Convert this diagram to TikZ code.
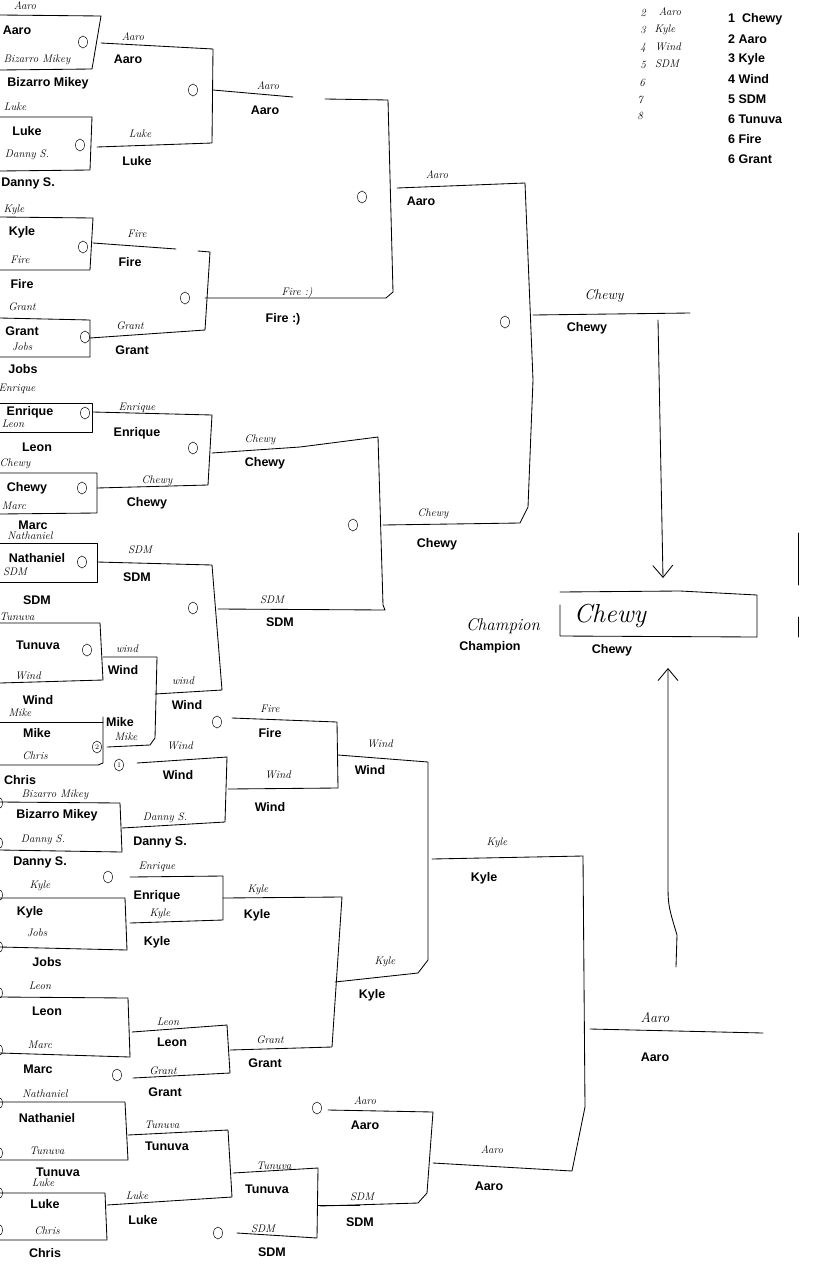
\documentclass[tikz,border=0pt]{standalone}
\usepackage{fontspec}
\newfontfamily\pfont{Liberation Sans}
\usetikzlibrary{arrows.meta,shapes.geometric}
\begin{document}
\begin{tikzpicture}[x=1pt,y=-1pt,
 lbl/.style={font=\pfont\bfseries\fontsize{12.5}{13}\selectfont, inner sep=0pt},
 hw/.style={font=\itshape\fontsize{11}{11}\selectfont, inner sep=0pt},
 ln/.style={line width=0.85pt, line join=round, line cap=round},
 circ/.style={draw, ellipse, minimum width=9pt, minimum height=12pt, inner sep=0pt, line width=0.5pt, font=\fontsize{7}{7}\selectfont},
 arr/.style={ln, -{Straight Barb[length=12pt,width=20pt]}}]
\fill[white] (0,0) rectangle (812,1269);
\path[use as bounding box] (0,0) rectangle (812,1269);

% ---------------- winners bracket lines ----------------
\draw[ln] (0,15) -- (101,16) -- (92,69) -- (0,70);
\draw[ln] (101,43) -- (213,49) -- (212,143) -- (97,147);
\draw[ln] (0,117) -- (92,117) -- (90,170) -- (0,171);
\draw[ln] (213,90) -- (293,97);
\draw[ln] (325,99) -- (388,100) -- (393,292) -- (386,298) -- (205,298);
\draw[ln] (0,217) -- (93,218) -- (90,270) -- (0,270);
\draw[ln] (93,243) -- (176,249);
\draw[ln] (198,251) -- (210,252) -- (205,330) -- (90,338);
\draw[ln] (0,318) -- (90,320) -- (90,357) -- (0,357);
\draw[ln] (0,403) -- (92,403) -- (92,432) -- (0,432);
\draw[ln] (93,412) -- (212,415) -- (208,485) -- (97,488);
\draw[ln] (0,473) -- (97,473) -- (97,513) -- (0,514);
\draw[ln] (212,453) -- (300,447) -- (378,437) -- (383,605) -- (385,610) -- (218,609);
\draw[ln] (397,188) -- (525,183) -- (533,380) -- (528,507) -- (520,523) -- (383,525);
\draw[ln] (533,315) -- (690,313);
\draw[ln] (0,543) -- (97,543) -- (97,582) -- (0,582);
\draw[ln] (97,562) -- (212,565) -- (222,690) -- (155,694);
\draw[ln] (0,623) -- (100,623) -- (103,680) -- (0,683);
\draw[ln] (103,657) -- (157,657) -- (155,738) -- (150,745) -- (107,747);
\draw[ln] (0,722) -- (103,722);
\draw[ln] (103,717) -- (103,763) -- (98,765) -- (0,765);

% ---------------- champion ----------------
\draw[arr] (658,320) -- (663,578);
\draw[arr] (676,967) -- (677,935) .. controls (668,905) .. (668,880) -- (668,668);
\draw[ln] (560,592) -- (680,591) -- (757,595) -- (757,637) -- (560,636) -- (560,605);
\draw[ln] (798,533) -- (798,585);
\draw[ln] (798,617) -- (798,637);

% ---------------- losers bracket lines ----------------
\draw[ln] (232,718) -- (337,722) -- (338,788) -- (228,789);
\draw[ln] (137,763) -- (227,757) -- (225,822) -- (122,828);
\draw[ln] (0,802) -- (120,803) -- (122,852) -- (0,850);
\draw[ln] (338,755) -- (428,762) -- (428,960) -- (418,973) -- (335,982);
\draw[ln] (130,877) -- (223,876) -- (223,920) -- (130,923);
\draw[ln] (0,898) -- (125,898) -- (127,950) -- (0,947);
\draw[ln] (223,898) -- (342,897) -- (332,1047) -- (230,1050);
\draw[ln] (0,997) -- (128,998) -- (130,1057) -- (0,1053);
\draw[ln] (132,1032) -- (227,1025) -- (230,1073) -- (133,1078);
\draw[ln] (0,1102) -- (125,1102) -- (128,1160) -- (0,1160);
\draw[ln] (128,1135) -- (228,1130) -- (232,1197) -- (107,1205);
\draw[ln] (0,1193) -- (105,1193) -- (107,1240) -- (0,1240);
\draw[ln] (233,1173) -- (318,1168) -- (317,1238) -- (237,1233);
\draw[ln] (318,1205) -- (360,1205);
\draw[ln] (328,1110) -- (433,1112) -- (427,1193) -- (418,1203) -- (320,1206);
\draw[ln] (433,1163) -- (572,1171) -- (585,1107) -- (583,856) -- (432,859);
\draw[ln] (590,1029) -- (763,1033);

% ---------------- circled marks ----------------
\foreach \n/\x/\y in {c1/83/42, c2/80/145, c3/193/90, c4/83/247, c5/185/298, c6/362/197,
  c7/85/337, c8/85/413, c9/193/448, c10/82/488, c11/353/525, c12/505/322, c13/82/562,
  c14/193/608, c15/87/650, c16/217/722, c17/-2/803, c18/-2/843, c19/108/877, c20/-2/895,
  c21/-2/947, c22/-2/993, c23/-2/1050, c24/117/1075, c25/-2/1103, c26/-2/1153,
  c27/-2/1193, c28/-2/1230, c29/317/1108, c30/218/1233}
  \node[circ] (\n) at (\x,\y) {};
\node[circ] (c31) at (97,747) {2};
\node[circ] (c32) at (119,765) {1};

% ---------------- printed labels ----------------
\node[lbl] (pA1) at (17,30) {Aaro};
\node[lbl] (pA2) at (48,83) {Bizarro Mikey};
\node[lbl] (pA3) at (27,131) {Luke};
\node[lbl] (pA4) at (28,183) {Danny S.};
\node[lbl] (pA5) at (22,232) {Kyle};
\node[lbl] (pA6) at (22,284) {Fire};
\node[lbl] (pA7) at (22,331) {Grant};
\node[lbl] (pA8) at (23,369) {Jobs};
\node[lbl] (pA9) at (30,412) {Enrique};
\node[lbl] (pA10) at (37,447) {Leon};
\node[lbl] (pA11) at (27,488) {Chewy};
\node[lbl] (pA12) at (33,525) {Marc};
\node[lbl] (pA13) at (37,558) {Nathaniel};
\node[lbl] (pA14) at (37,600) {SDM};
\node[lbl] (pA15) at (38,645) {Tunuva};
\node[lbl] (pA16) at (38,700) {Wind};
\node[lbl] (pA17) at (37,733) {Mike};
\node[lbl] (pA18) at (20,780) {Chris};
\node[lbl] (pB1) at (128,59) {Aaro};
\node[lbl] (pB2) at (137,161) {Luke};
\node[lbl] (pB3) at (130,262) {Fire};
\node[lbl] (pB4) at (132,350) {Grant};
\node[lbl] (pB5) at (137,433) {Enrique};
\node[lbl] (pB6) at (147,503) {Chewy};
\node[lbl] (pB7) at (137,577) {SDM};
\node[lbl] (pB8) at (123,670) {Wind};
\node[lbl] (pB9) at (120,722) {Mike};
\node[lbl] (pB10) at (187,705) {Wind};
\node[lbl] (pC1) at (265,110) {Aaro};
\node[lbl] (pC2) at (283,319) {Fire :)};
\node[lbl] (pC3) at (265,463) {Chewy};
\node[lbl] (pC4) at (280,622) {SDM};
\node[lbl] (pD1) at (421,201) {Aaro};
\node[lbl] (pD2) at (437,544) {Chewy};
\node[lbl] (pE1) at (587,328) {Chewy};
\node[lbl] (pE2) at (490,647) {Champion};
\node[lbl] (pE3) at (612,650) {Chewy};
\node[lbl] (pL1) at (270,733) {Fire};
\node[lbl] (pL2) at (178,775) {Wind};
\node[lbl] (pL3) at (270,807) {Wind};
\node[lbl] (pL4) at (370,770) {Wind};
\node[lbl] (pL5) at (57,815) {Bizarro Mikey};
\node[lbl] (pL6) at (160,842) {Danny S.};
\node[lbl] (pL7) at (40,862) {Danny S.};
\node[lbl] (pL8) at (157,896) {Enrique};
\node[lbl] (pL9) at (30,912) {Kyle};
\node[lbl] (pL10) at (157,942) {Kyle};
\node[lbl] (pL11) at (257,915) {Kyle};
\node[lbl] (pL12) at (47,962) {Jobs};
\node[lbl] (pL13) at (484,878) {Kyle};
\node[lbl] (pL14) at (372,995) {Kyle};
\node[lbl] (pL15) at (47,1011) {Leon};
\node[lbl] (pL16) at (172,1042) {Leon};
\node[lbl] (pL17) at (265,1063) {Grant};
\node[lbl] (pL18) at (38,1069) {Marc};
\node[lbl] (pL19) at (165,1092) {Grant};
\node[lbl] (pL20) at (655,1057) {Aaro};
\node[lbl] (pL21) at (47,1118) {Nathaniel};
\node[lbl] (pL22) at (365,1125) {Aaro};
\node[lbl] (pL23) at (167,1146) {Tunuva};
\node[lbl] (pL24) at (58,1172) {Tunuva};
\node[lbl] (pL25) at (489,1186) {Aaro};
\node[lbl] (pL26) at (267,1189) {Tunuva};
\node[lbl] (pL27) at (45,1204) {Luke};
\node[lbl] (pL28) at (143,1220) {Luke};
\node[lbl] (pL29) at (360,1222) {SDM};
\node[lbl] (pL30) at (272,1252) {SDM};
\node[lbl] (pL31) at (45,1253) {Chris};
\node[lbl, anchor=west] (s1) at (728,19) {1\ \ Chewy};
\node[lbl, anchor=west] (s2) at (728,39) {2 Aaro};
\node[lbl, anchor=west] (s3) at (728,59) {3 Kyle};
\node[lbl, anchor=west] (s4) at (728,79) {4 Wind};
\node[lbl, anchor=west] (s5) at (728,99) {5 SDM};
\node[lbl, anchor=west] (s6) at (728,119) {6 Tunuva};
\node[lbl, anchor=west] (s7) at (728,139) {6 Fire};
\node[lbl, anchor=west] (s8) at (728,159) {6 Grant};

% ---------------- handwritten labels ----------------
\node[hw] (hA1) at (25,6) {Aaro};
\node[hw] (hA2) at (37,60) {Bizarro Mikey};
\node[hw] (hA3) at (15,107) {Luke};
\node[hw] (hA4) at (27,155) {Danny S.};
\node[hw] (hA5) at (14,210) {Kyle};
\node[hw] (hA6) at (20,260) {Fire};
\node[hw] (hA7) at (22,307) {Grant};
\node[hw] (hA8) at (22,347) {Jobs};
\node[hw] (hA9) at (17,389) {Enrique};
\node[hw] (hA10) at (13,424) {Leon};
\node[hw] (hA11) at (15,464) {Chewy};
\node[hw] (hA12) at (14,506) {Marc};
\node[hw] (hA13) at (30,536) {Nathaniel};
\node[hw] (hA14) at (15,572) {SDM};
\node[hw] (hA15) at (17,617) {Tunuva};
\node[hw] (hA16) at (28,676) {Wind};
\node[hw] (hA17) at (20,713) {Mike};
\node[hw] (hA18) at (35,756) {Chris};
\node[hw] (hB1) at (133,37) {Aaro};
\node[hw] (hB2) at (140,134) {Luke};
\node[hw] (hB3) at (137,234) {Fire};
\node[hw] (hB4) at (130,326) {Grant};
\node[hw] (hB5) at (137,408) {Enrique};
\node[hw] (hB6) at (157,481) {Chewy};
\node[hw] (hB7) at (140,550) {SDM};
\node[hw] (hB8) at (127,649) {wind};
\node[hw] (hB9) at (126,737) {Mike};
\node[hw] (hB10) at (183,681) {wind};
\node[hw] (hC1) at (268,86) {Aaro};
\node[hw] (hC2) at (297,293) {Fire :)};
\node[hw] (hC3) at (260,440) {Chewy};
\node[hw] (hC4) at (272,600) {SDM};
\node[hw] (hD1) at (437,175) {Aaro};
\node[hw] (hD2) at (433,514) {Chewy};
\node[hw, font=\itshape\fontsize{14}{14}\selectfont] (hE1) at (604,296) {Chewy};
\node[hw, font=\itshape\fontsize{17}{17}\selectfont] (hE2) at (503,626) {Champion};
\node[hw, font=\itshape\fontsize{26}{26}\selectfont] (hE3) at (610,616) {Chewy};
\node[hw] (hL1) at (270,709) {Fire};
\node[hw] (hL2) at (180,746) {Wind};
\node[hw] (hL3) at (278,775) {Wind};
\node[hw] (hL4) at (380,744) {Wind};
\node[hw] (hL5) at (55,795) {Bizarro Mikey};
\node[hw] (hL6) at (165,818) {Danny S.};
\node[hw] (hL7) at (43,840) {Danny S.};
\node[hw] (hL8) at (157,867) {Enrique};
\node[hw] (hL9) at (40,886) {Kyle};
\node[hw] (hL10) at (160,914) {Kyle};
\node[hw] (hL11) at (258,890) {Kyle};
\node[hw] (hL12) at (37,933) {Jobs};
\node[hw] (hL13) at (497,843) {Kyle};
\node[hw] (hL14) at (385,962) {Kyle};
\node[hw] (hL15) at (40,986) {Leon};
\node[hw] (hL16) at (168,1022) {Leon};
\node[hw] (hL17) at (270,1040) {Grant};
\node[hw] (hL18) at (40,1045) {Marc};
\node[hw] (hL19) at (163,1071) {Grant};
\node[hw, font=\itshape\fontsize{14}{14}\selectfont] (hL20) at (655,1018) {Aaro};
\node[hw] (hL21) at (45,1094) {Nathaniel};
\node[hw] (hL22) at (365,1101) {Aaro};
\node[hw] (hL23) at (162,1125) {Tunuva};
\node[hw] (hL24) at (47,1151) {Tunuva};
\node[hw] (hL25) at (492,1150) {Aaro};
\node[hw] (hL26) at (274,1166) {Tunuva};
\node[hw] (hL27) at (43,1183) {Luke};
\node[hw] (hL28) at (137,1196) {Luke};
\node[hw] (hL29) at (362,1197) {SDM};
\node[hw] (hL30) at (263,1229) {SDM};
\node[hw] (hL31) at (47,1231) {Chris};
\node[hw] (n2) at (643,13) {2};
\node[hw] (n2t) at (670,12) {Aaro};
\node[hw] (n3) at (643,30) {3};
\node[hw] (n3t) at (665,30) {Kyle};
\node[hw] (n4) at (643,48) {4};
\node[hw] (n4t) at (668,47) {Wind};
\node[hw] (n5) at (643,65) {5};
\node[hw] (n5t) at (667,64) {SDM};
\node[hw] (n6) at (642,83) {6};
\node[hw] (n7) at (640,100) {7};
\node[hw] (n8) at (640,116) {8};
\end{tikzpicture}
\end{document}
